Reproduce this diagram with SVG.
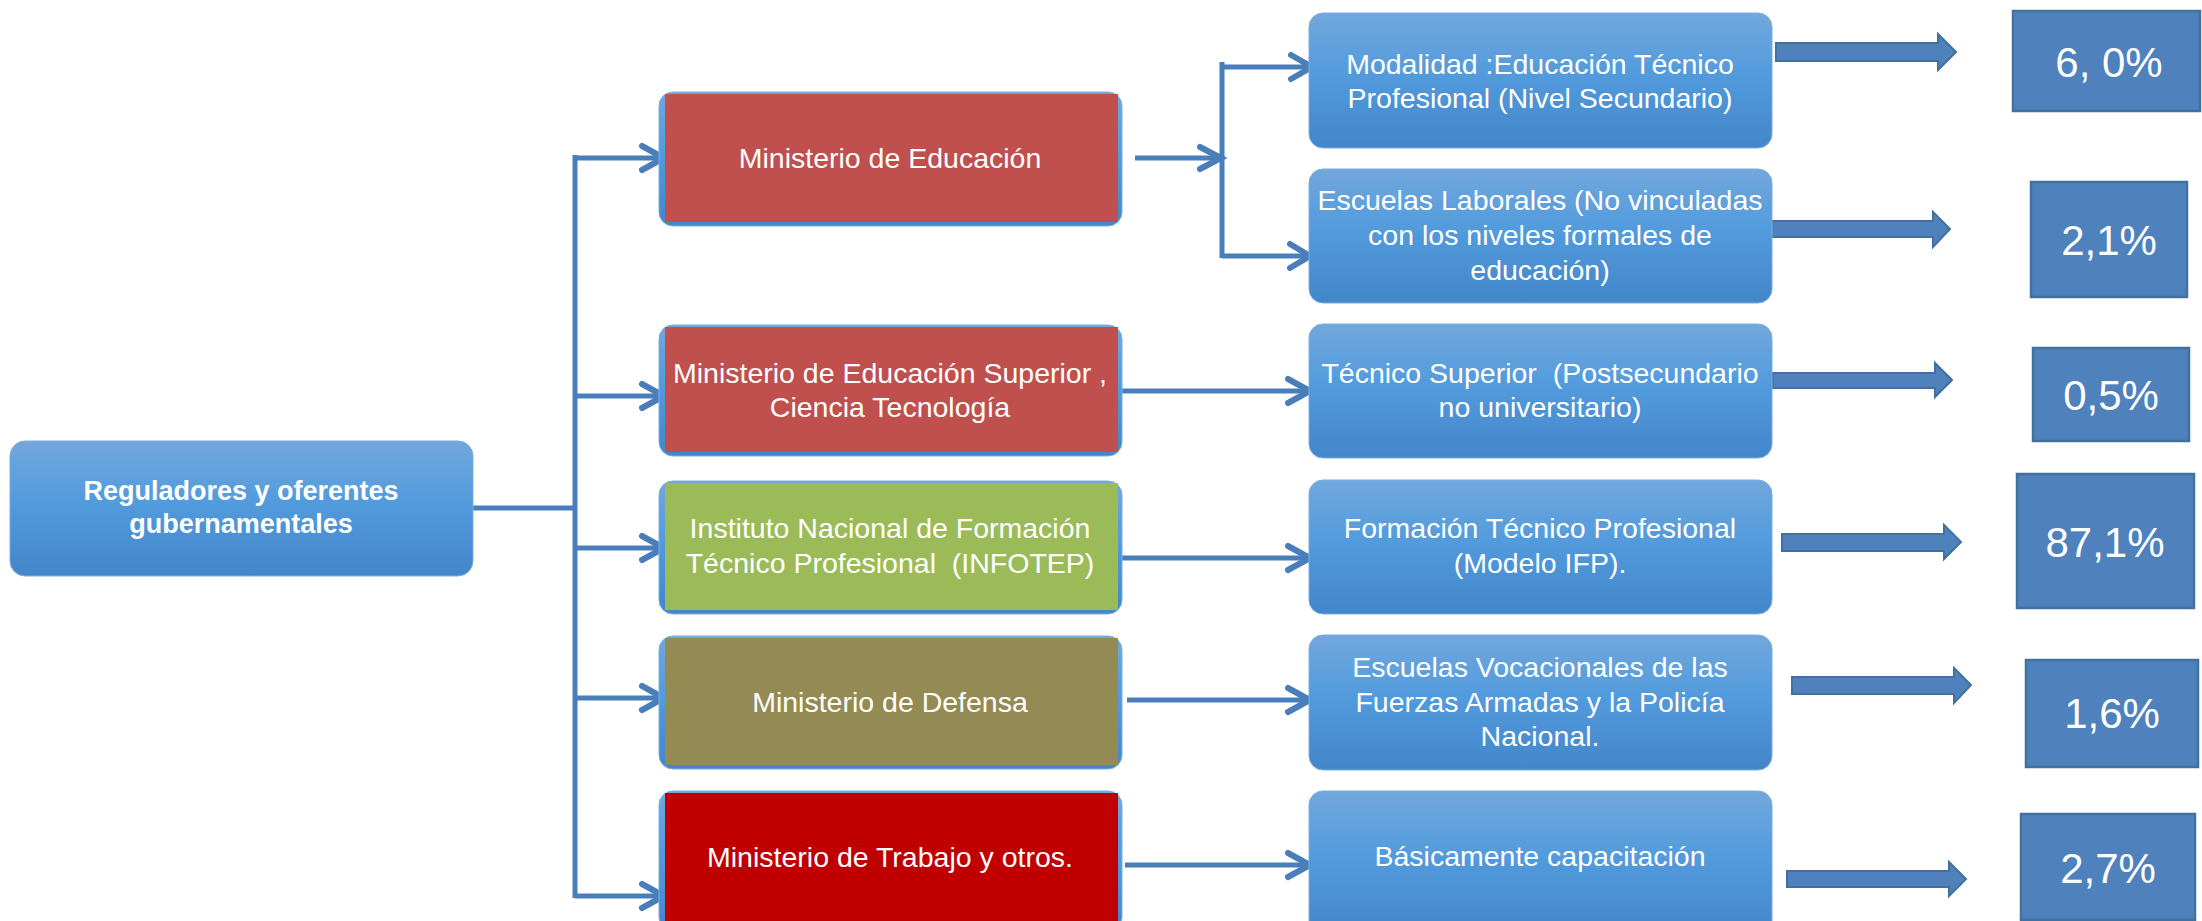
<svg xmlns="http://www.w3.org/2000/svg" width="2202" height="921" viewBox="0 0 2202 921">
<defs>
<linearGradient id="gb" x1="0" y1="0" x2="0" y2="1">
<stop offset="0" stop-color="#72A7DC"/>
<stop offset="0.45" stop-color="#529BDD"/>
<stop offset="1" stop-color="#4386CA"/>
</linearGradient>
<style>
.bbox{fill:url(#gb);stroke:#7AAEE0;stroke-width:1}
.txt{font-family:"Liberation Sans",Arial,sans-serif;font-size:28.5px;fill:#FFFFFF;text-anchor:middle}
.root{font-family:"Liberation Sans",Arial,sans-serif;font-size:27px;font-weight:bold;fill:#FFFFFF;text-anchor:middle}
.pct{font-family:"Liberation Sans",Arial,sans-serif;font-size:42px;fill:#FFFFFF;text-anchor:middle}
.pbox{fill:#4F81BD;stroke:#41719C;stroke-width:2.5}
.barrow{fill:#4F81BD;stroke:#41719C;stroke-width:2}
.ln{fill:none;stroke:#4A7EBB;stroke-width:5;stroke-linecap:butt}
.chev{fill:none;stroke:#4A7EBB;stroke-width:6;stroke-linecap:round;stroke-linejoin:miter}
</style>
</defs>
<rect width="2202" height="921" fill="#FFFFFF"/>

<g id="connectors">
<!-- root to trunk -->
<line class="ln" x1="473" y1="508" x2="577" y2="508" stroke-width="4"/>
<line class="ln" x1="575" y1="155" x2="575" y2="898"/>
<line class="ln" x1="575" y1="158" x2="662" y2="158"/>
<polyline class="chev" points="642,146 664,158 642,170"/>
<line class="ln" x1="575" y1="396" x2="662" y2="396"/>
<polyline class="chev" points="642,384 664,396 642,408"/>
<line class="ln" x1="575" y1="548" x2="662" y2="548"/>
<polyline class="chev" points="642,536 664,548 642,560"/>
<line class="ln" x1="575" y1="698" x2="662" y2="698"/>
<polyline class="chev" points="642,686 664,698 642,710"/>
<line class="ln" x1="575" y1="896" x2="662" y2="896"/>
<polyline class="chev" points="642,884 664,896 642,908"/>
<!-- Min Ed fork -->
<line class="ln" x1="1135" y1="158" x2="1220" y2="158"/>
<polyline class="chev" points="1200,147 1221,158 1200,169"/>
<line class="ln" x1="1222" y1="62" x2="1222" y2="258"/>
<line class="ln" x1="1222" y1="67" x2="1310" y2="67"/>
<polyline class="chev" points="1291,55 1312,67 1291,79"/>
<line class="ln" x1="1222" y1="256" x2="1308" y2="256"/>
<polyline class="chev" points="1290,244 1310,256 1290,268"/>
<!-- level1 to level2 -->
<line class="ln" x1="1121" y1="391" x2="1308" y2="391"/>
<polyline class="chev" points="1288,379 1310,391 1288,403"/>
<line class="ln" x1="1121" y1="558" x2="1308" y2="558"/>
<polyline class="chev" points="1288,546 1310,558 1288,570"/>
<line class="ln" x1="1127" y1="700" x2="1308" y2="700"/>
<polyline class="chev" points="1288,688 1310,700 1288,712"/>
<line class="ln" x1="1125" y1="865" x2="1308" y2="865"/>
<polyline class="chev" points="1288,853 1310,865 1288,877"/>
<!-- block arrows -->
<polygon class="barrow" points="1776,43 1938,43 1938,34 1956,52 1938,70 1938,61 1776,61"/>
<polygon class="barrow" points="1771,221 1933,221 1933,212 1950,229 1933,247 1933,237 1771,237"/>
<polygon class="barrow" points="1773,373 1935,373 1935,363 1952,380 1935,397 1935,388 1773,388"/>
<polygon class="barrow" points="1782,534 1944,534 1944,525 1961,542 1944,559 1944,551 1782,551"/>
<polygon class="barrow" points="1792,677 1954,677 1954,668 1971,685 1954,703 1954,694 1792,694"/>
<polygon class="barrow" points="1787,871 1949,871 1949,862 1966,879 1949,896 1949,887 1787,887"/>
</g>

<g id="root">
<rect class="bbox" x="10" y="441" width="463" height="135" rx="15"/>
<text class="root" x="241" y="500">Reguladores y oferentes</text>
<text class="root" x="241" y="533">gubernamentales</text>
</g>

<g id="min-educacion">
<rect class="bbox" x="659" y="92" width="463" height="134" rx="14"/>
<rect x="665" y="94" width="453" height="128" fill="#C0504D"/>
<text class="txt" x="890" y="168">Ministerio de Educación</text>
</g>

<g id="min-superior">
<rect class="bbox" x="659" y="325" width="463" height="131" rx="14"/>
<rect x="665" y="327" width="453" height="125" fill="#C0504D"/>
<text class="txt" x="890" y="383">Ministerio de Educación Superior ,</text>
<text class="txt" x="890" y="417">Ciencia Tecnología</text>
</g>

<g id="infotep">
<rect class="bbox" x="659" y="481" width="463" height="133" rx="14"/>
<rect x="665" y="483" width="453" height="127" fill="#9BBB59"/>
<text class="txt" x="890" y="538">Instituto Nacional de Formación</text>
<text class="txt" x="890" y="573" xml:space="preserve">Técnico Profesional  (INFOTEP)</text>
</g>

<g id="min-defensa">
<rect class="bbox" x="659" y="636" width="463" height="133" rx="14"/>
<rect x="665" y="638" width="453" height="127" fill="#948A54"/>
<text class="txt" x="890" y="712">Ministerio de Defensa</text>
</g>

<g id="min-trabajo">
<rect class="bbox" x="659" y="791" width="463" height="140" rx="14"/>
<rect x="665" y="793" width="453" height="132" fill="#C00000"/>
<text class="txt" x="890" y="867">Ministerio de Trabajo y otros.</text>
</g>

<g id="modalidad">
<rect class="bbox" x="1309" y="13" width="463" height="135" rx="14"/>
<text class="txt" x="1540" y="74">Modalidad :Educación Técnico</text>
<text class="txt" x="1540" y="108">Profesional (Nivel Secundario)</text>
</g>

<g id="escuelas-laborales">
<rect class="bbox" x="1309" y="169" width="463" height="134" rx="14"/>
<text class="txt" x="1540" y="210">Escuelas Laborales (No vinculadas</text>
<text class="txt" x="1540" y="245">con los niveles formales de</text>
<text class="txt" x="1540" y="280">educación)</text>
</g>

<g id="tecnico-superior">
<rect class="bbox" x="1309" y="324" width="463" height="134" rx="14"/>
<text class="txt" x="1540" y="383" xml:space="preserve">Técnico Superior  (Postsecundario</text>
<text class="txt" x="1540" y="417">no universitario)</text>
</g>

<g id="formacion">
<rect class="bbox" x="1309" y="480" width="463" height="134" rx="14"/>
<text class="txt" x="1540" y="538">Formación Técnico Profesional</text>
<text class="txt" x="1540" y="573">(Modelo IFP).</text>
</g>

<g id="escuelas-vocacionales">
<rect class="bbox" x="1309" y="635" width="463" height="135" rx="14"/>
<text class="txt" x="1540" y="677">Escuelas Vocacionales de las</text>
<text class="txt" x="1540" y="712">Fuerzas Armadas y la Policía</text>
<text class="txt" x="1540" y="746">Nacional.</text>
</g>

<g id="basicamente">
<rect class="bbox" x="1309" y="791" width="463" height="145" rx="14"/>
<text class="txt" x="1540" y="866">Básicamente capacitación</text>
</g>

<g id="pct-1">
<rect class="pbox" x="2013" y="11" width="187" height="100"/>
<text class="pct" x="2109" y="77">6, 0%</text>
</g>
<g id="pct-2">
<rect class="pbox" x="2031" y="182" width="156" height="115"/>
<text class="pct" x="2109" y="255">2,1%</text>
</g>
<g id="pct-3">
<rect class="pbox" x="2033" y="348" width="156" height="93"/>
<text class="pct" x="2111" y="410">0,5%</text>
</g>
<g id="pct-4">
<rect class="pbox" x="2017" y="474" width="177" height="134"/>
<text class="pct" x="2105" y="557">87,1%</text>
</g>
<g id="pct-5">
<rect class="pbox" x="2026" y="660" width="172" height="107"/>
<text class="pct" x="2112" y="728">1,6%</text>
</g>
<g id="pct-6">
<rect class="pbox" x="2021" y="814" width="174" height="106"/>
<text class="pct" x="2108" y="883">2,7%</text>
</g>
</svg>
